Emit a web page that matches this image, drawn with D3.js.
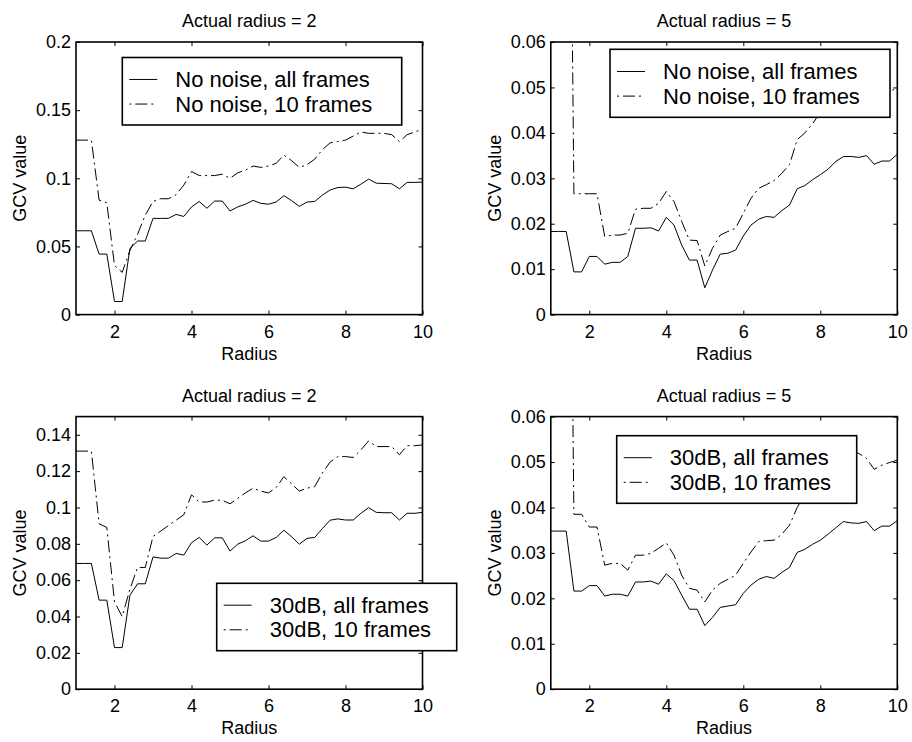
<!DOCTYPE html>
<html>
<head>
<meta charset="utf-8">
<script src="https://cdn.jsdelivr.net/npm/d3@7"></script>
<style>
  body { margin: 0; background: #fff; }
  svg text { font-family: "Liberation Sans", Arial, Helvetica, sans-serif; fill: #000; }
</style>
</head>
<body>
<svg id="fig" width="912" height="742"></svg>
<script>
// Candidate radius values at which the GCV score was evaluated
const radius = [1.0, 1.2, 1.4, 1.6, 1.8, 2.0, 2.2, 2.4, 2.6, 2.8,
                3.0, 3.2, 3.4, 3.6, 3.8, 4.0, 4.2, 4.4, 4.6, 4.8,
                5.0, 5.2, 5.4, 5.6, 5.8, 6.0, 6.2, 6.4, 6.6, 6.8,
                7.0, 7.2, 7.4, 7.6, 7.8, 8.0, 8.2, 8.4, 8.6, 8.8,
                9.0, 9.2, 9.4, 9.6, 9.8, 10.0];

// Actual radius = 2, no noise
const noNoiseAllR2 = [0.0615, 0.0615, 0.0615, 0.0444, 0.0444, 0.0096, 0.0096, 0.0485, 0.054, 0.054,
                      0.0706, 0.0706, 0.0706, 0.0735, 0.072, 0.079, 0.083, 0.078, 0.0833, 0.0833,
                      0.076, 0.079, 0.081, 0.0838, 0.0816, 0.081, 0.0826, 0.0873, 0.0836, 0.0794,
                      0.0826, 0.083, 0.0877, 0.0914, 0.0932, 0.0935, 0.0923, 0.0957, 0.0994, 0.0964,
                      0.0962, 0.096, 0.0923, 0.097, 0.097, 0.0972];
const noNoise10R2 = [0.128, 0.128, 0.128, 0.084, 0.082, 0.036, 0.031, 0.047, 0.059, 0.073,
                     0.083, 0.085, 0.085, 0.088, 0.095, 0.105, 0.102, 0.102, 0.102, 0.103,
                     0.100, 0.104, 0.106, 0.109, 0.108, 0.109, 0.111, 0.117, 0.113, 0.108,
                     0.110, 0.114, 0.121, 0.126, 0.127, 0.128, 0.131, 0.134, 0.133, 0.133,
                     0.133, 0.132, 0.127, 0.132, 0.134, 0.136];

// Actual radius = 5, no noise
const noNoiseAllR5 = [0.0183, 0.0183, 0.0183, 0.0094, 0.0094, 0.0128, 0.0128, 0.0111, 0.0115, 0.0115,
                      0.0128, 0.019, 0.019, 0.0191, 0.0184, 0.0214, 0.0197, 0.0153, 0.012, 0.012,
                      0.0059, 0.0098, 0.0133, 0.0135, 0.0142, 0.0173, 0.0197, 0.021, 0.0216, 0.0214,
                      0.0229, 0.0241, 0.0277, 0.0284, 0.0297, 0.0308, 0.032, 0.0337, 0.0348, 0.0348,
                      0.0346, 0.035, 0.0331, 0.0338, 0.0338, 0.0353];
const noNoise10R5 = [0.2, 0.2, 0.2, 0.0266, 0.0266, 0.0266, 0.0266, 0.0172, 0.0175, 0.0175,
                     0.0179, 0.0232, 0.0234, 0.0234, 0.0245, 0.0271, 0.0249, 0.0205, 0.0164, 0.0163,
                     0.0107, 0.0146, 0.0175, 0.0183, 0.019, 0.0223, 0.0256, 0.0278, 0.0286, 0.0295,
                     0.0311, 0.033, 0.0385, 0.04, 0.042, 0.0445, 0.0465, 0.0485, 0.05, 0.0505,
                     0.05, 0.0498, 0.0475, 0.0485, 0.049, 0.05];

// Actual radius = 2, 30 dB noise
const db30AllR2 = [0.0692, 0.0692, 0.0692, 0.049, 0.049, 0.0229, 0.0229, 0.0517, 0.058, 0.058,
                   0.0728, 0.0721, 0.0721, 0.0747, 0.0738, 0.0806, 0.0835, 0.0793, 0.0833, 0.0833,
                   0.076, 0.0798, 0.0817, 0.0844, 0.0815, 0.0815, 0.0835, 0.0875, 0.0839, 0.0798,
                   0.083, 0.0835, 0.0884, 0.093, 0.0937, 0.0931, 0.0931, 0.0968, 0.0999, 0.0973,
                   0.0971, 0.0971, 0.0931, 0.0968, 0.0968, 0.0973];
const db30TenR2 = [0.131, 0.131, 0.131, 0.091, 0.089, 0.048, 0.040, 0.055, 0.067, 0.067,
                   0.084, 0.087, 0.090, 0.093, 0.096, 0.107, 0.103, 0.103, 0.104, 0.104,
                   0.102, 0.105, 0.108, 0.1106, 0.109, 0.108, 0.111, 0.117, 0.113, 0.109,
                   0.1106, 0.1115, 0.119, 0.125, 0.128, 0.128, 0.1275, 0.1317, 0.1366, 0.1335,
                   0.1335, 0.1335, 0.129, 0.134, 0.134, 0.1344];

// Actual radius = 5, 30 dB noise
const db30AllR5 = [0.0348, 0.0348, 0.0348, 0.0216, 0.0216, 0.0228, 0.0228, 0.0205, 0.0209, 0.0209,
                   0.0205, 0.0236, 0.0236, 0.0238, 0.0231, 0.0254, 0.0239, 0.0207, 0.0176, 0.0176,
                   0.014, 0.0158, 0.018, 0.0183, 0.0186, 0.0211, 0.0229, 0.0242, 0.0248, 0.0244,
                   0.0257, 0.0268, 0.0301, 0.0308, 0.0319, 0.0328, 0.0341, 0.0355, 0.0369, 0.0366,
                   0.0365, 0.0369, 0.0349, 0.0359, 0.0359, 0.0371];
const db30TenR5 = [0.2, 0.2, 0.2, 0.0385, 0.0385, 0.0357, 0.0357, 0.0273, 0.0277, 0.0277,
                   0.0262, 0.0295, 0.0295, 0.0299, 0.031, 0.0322, 0.0295, 0.0251, 0.0222, 0.0218,
                   0.0192, 0.0218, 0.0233, 0.0242, 0.0251, 0.0277, 0.0302, 0.0325, 0.0327, 0.0328,
                   0.0341, 0.0361, 0.04, 0.043, 0.046, 0.048, 0.05, 0.051, 0.052, 0.052,
                   0.0519, 0.0508, 0.0484, 0.0493, 0.0499, 0.0504];

// Axis ticks and their labels
const xTicks = [2, 4, 6, 8, 10];
const xTickLabels = ["2", "4", "6", "8", "10"];
const yTicksClean2 = [0, 0.05, 0.1, 0.15, 0.2];
const yTickLabelsClean2 = ["0", "0.05", "0.1", "0.15", "0.2"];
const yTicksNoisy2 = [0, 0.02, 0.04, 0.06, 0.08, 0.1, 0.12, 0.14];
const yTickLabelsNoisy2 = ["0", "0.02", "0.04", "0.06", "0.08", "0.1", "0.12", "0.14"];
const yTicksR5 = [0, 0.01, 0.02, 0.03, 0.04, 0.05, 0.06];
const yTickLabelsR5 = ["0", "0.01", "0.02", "0.03", "0.04", "0.05", "0.06"];

const titles = ["Actual radius = 2", "Actual radius = 5", "Actual radius = 2", "Actual radius = 5"];
const legendLabels = [
  ["No noise, all frames", "No noise, 10 frames"],
  ["No noise, all frames", "No noise, 10 frames"],
  ["30dB, all frames", "30dB, 10 frames"],
  ["30dB, all frames", "30dB, 10 frames"]
];
const xLabel = "Radius";
const yLabel = "GCV value";

// Subplot layout
const W = 346.5, H = 272.6;
const panels = [
  { left: 76.0,  top: 42.0,  yMax: 0.2,  yt: yTicksClean2, yl: yTickLabelsClean2, all: noNoiseAllR2, ten: noNoise10R2,
    legend: { x: 122.3, y: 57.5, w: 279.4, h: 67.5 } },
  { left: 550.8, top: 42.0,  yMax: 0.06, yt: yTicksR5,     yl: yTickLabelsR5,     all: noNoiseAllR5, ten: noNoise10R5,
    legend: { x: 610.0, y: 49.3, w: 280.0, h: 68.0 } },
  { left: 76.0,  top: 416.6, yMax: 0.15, yt: yTicksNoisy2, yl: yTickLabelsNoisy2, all: db30AllR2,    ten: db30TenR2,
    legend: { x: 216.7, y: 583.3, w: 240.0, h: 67.4 } },
  { left: 550.8, top: 416.6, yMax: 0.06, yt: yTicksR5,     yl: yTickLabelsR5,     all: db30AllR5,    ten: db30TenR5,
    legend: { x: 616.7, y: 435.7, w: 240.0, h: 67.6 } }
];

const DASHDOT = "12,4,2,4";
const LEGEND_FONT = 22;
const svg = d3.select("#fig");

panels.forEach((p, i) => {
  const g = svg.append("g").attr("transform", `translate(${p.left},${p.top})`);
  const x = d3.scaleLinear().domain([1, 10]).range([0, W]);
  const y = d3.scaleLinear().domain([0, p.yMax]).range([H, 0]);

  const clipId = "clip" + i;
  g.append("clipPath").attr("id", clipId)
    .append("rect").attr("x", 0).attr("y", 0).attr("width", W).attr("height", H);

  // inward ticks on all four sides
  const fmtX = (d, k) => xTickLabels[k];
  const fmtY = (d, k) => p.yl[k];
  const axB = g.append("g").attr("transform", `translate(0,${H})`)
    .call(d3.axisBottom(x).tickValues(xTicks).tickFormat(fmtX).tickSizeInner(-4).tickSizeOuter(0).tickPadding(10.5));
  const axT = g.append("g")
    .call(d3.axisTop(x).tickValues(xTicks).tickFormat("").tickSizeInner(-4).tickSizeOuter(0));
  const axL = g.append("g")
    .call(d3.axisLeft(y).tickValues(p.yt).tickFormat(fmtY).tickSizeInner(-4).tickSizeOuter(0).tickPadding(5));
  const axR = g.append("g").attr("transform", `translate(${W},0)`)
    .call(d3.axisRight(y).tickValues(p.yt).tickFormat("").tickSizeInner(-4).tickSizeOuter(0));
  [axB, axT, axL, axR].forEach(a => {
    a.select(".domain").remove();
    a.selectAll(".tick line").attr("stroke", "#000").attr("stroke-width", 1);
    a.selectAll("text").attr("font-size", 18).attr("fill", "#000")
      .style("font-family", "'Liberation Sans', Arial, Helvetica, sans-serif");
  });

  // data curves
  const line = d3.line().x((d, k) => x(radius[k])).y(d => y(d));
  const curves = g.append("g").attr("clip-path", `url(#${clipId})`);
  curves.append("path").datum(p.all).attr("d", line)
    .attr("fill", "none").attr("stroke", "#000").attr("stroke-width", 1);
  curves.append("path").datum(p.ten).attr("d", line)
    .attr("fill", "none").attr("stroke", "#000").attr("stroke-width", 1)
    .attr("stroke-dasharray", DASHDOT);

  // axes box
  g.append("rect").attr("x", 0).attr("y", 0).attr("width", W).attr("height", H)
    .attr("fill", "none").attr("stroke", "#000").attr("stroke-width", 1.6);

  // title and axis labels
  g.append("text").attr("x", W / 2).attr("y", -15).attr("text-anchor", "middle")
    .attr("font-size", 18).text(titles[i]);
  g.append("text").attr("x", W / 2).attr("y", H + 45).attr("text-anchor", "middle")
    .attr("font-size", 18).text(xLabel);
  g.append("text").attr("transform", `translate(-50,${H / 2}) rotate(-90)`)
    .attr("text-anchor", "middle").attr("font-size", 18).text(yLabel);

  // legend (absolute coordinates, drawn on top of the curves)
  const L = p.legend;
  const lg = svg.append("g").attr("transform", `translate(${L.x},${L.y})`);
  lg.append("rect").attr("width", L.w).attr("height", L.h)
    .attr("fill", "#fff").attr("stroke", "#000").attr("stroke-width", 1.6);
  const cy = L.h / 2;
  [[cy - 11.8, null], [cy + 12.8, DASHDOT]].forEach(([ry, dash], k) => {
    const s = lg.append("line").attr("x1", 7).attr("x2", 35).attr("y1", ry).attr("y2", ry)
      .attr("stroke", "#000").attr("stroke-width", 1);
    if (dash) s.attr("stroke-dasharray", dash).attr("stroke-dashoffset", 16);
    lg.append("text").attr("x", 53).attr("y", ry).attr("dy", "0.35em")
      .attr("font-size", LEGEND_FONT).text(legendLabels[i][k]);
  });
});
</script>
</body>
</html>
